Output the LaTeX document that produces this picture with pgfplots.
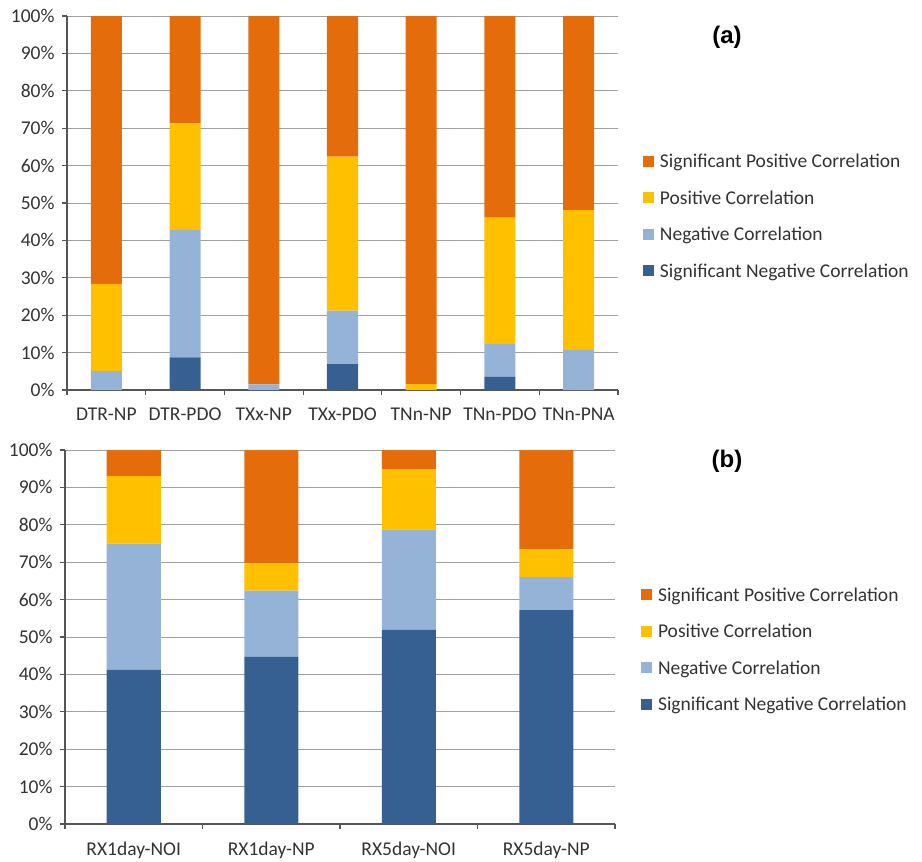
\documentclass[border=0pt]{standalone}
\usepackage{pgfplots}
\pgfplotsset{compat=1.18}
\usepackage{fontspec}
\setmainfont{Carlito}
\newfontfamily\arialfont{Liberation Sans}
\definecolor{sigpos}{RGB}{228,108,10}
\definecolor{pos}{RGB}{255,192,0}
\definecolor{neg}{RGB}{149,179,215}
\definecolor{signeg}{RGB}{55,96,146}
\definecolor{gridc}{RGB}{160,160,160}
\definecolor{axc}{RGB}{85,85,85}
\newcommand{\tf}{\fontsize{19.5}{23}\selectfont}
\pgfplotsset{
 mystyle/.style={
  scale only axis, height=374pt,
  ybar stacked, ymin=0, ymax=100,
  ytick={0,10,...,100},
  yticklabels={0\%,10\%,20\%,30\%,40\%,50\%,60\%,70\%,80\%,90\%,100\%},
  axis x line*=bottom, axis y line*=left,
  axis line style={axc, line width=1.2pt, -},
  ymajorgrids, grid style={gridc, line width=0.9pt},
  tick align=outside, major tick length=5pt,
  tick style={axc, line width=1.1pt},
  x tick label as interval,
  tick label style={font=\tf, black!80},
  yticklabel style={xshift=-4pt},
  xticklabel style={yshift=-9pt},
  reverse legend,
  legend cell align=left,
  legend image code/.code={\fill[##1] (0pt,-5pt) rectangle (11pt,6pt);},
  legend style={draw=none, fill=none, inner sep=0pt, font=\tf, text=black!80,
     row sep=17.5pt, anchor=west, nodes={inner sep=2pt},
     /tikz/every odd column/.append style={column sep=4pt}},
  every axis plot/.append style={draw=none},
 }
}
\begin{document}
\begin{tikzpicture}
\path[use as bounding box] (0,0) rectangle (922pt,-862pt);
% ---------- panel (a)
\begin{axis}[mystyle, at={(67pt,-390pt)}, anchor=south west,
  width=551pt, bar width=31pt,
  xmin=-0.5, xmax=6.5,
  xtick={-0.5,0.5,...,6.5},
  xticklabels={DTR-NP,DTR-PDO,TXx-NP,TXx-PDO,TNn-NP,TNn-PDO,TNn-PNA},
  legend style={at={(1.045,0.464)}}]
\addplot[fill=signeg] coordinates {(0,0) (1,8.7) (2,0) (3,6.9) (4,0) (5,3.5) (6,0)};
\addlegendentry{Significant Negative Correlation}
\addplot[fill=neg] coordinates {(0,5.1) (1,34.1) (2,1.5) (3,14.3) (4,0) (5,8.8) (6,10.7)};
\addlegendentry{Negative Correlation}
\addplot[fill=pos] coordinates {(0,23.3) (1,28.5) (2,0) (3,41.2) (4,1.6) (5,33.8) (6,37.4)};
\addlegendentry{Positive Correlation}
\addplot[fill=sigpos] coordinates {(0,71.6) (1,28.7) (2,98.5) (3,37.6) (4,98.4) (5,53.9) (6,51.9)};
\addlegendentry{Significant Positive Correlation}
\end{axis}
% ---------- panel (b)
\begin{axis}[mystyle, at={(65pt,-824pt)}, anchor=south west,
  width=550pt, bar width=54pt,
  xmin=-0.5, xmax=3.5,
  xtick={-0.5,0.5,...,3.5},
  xticklabels={RX1day-NOI,RX1day-NP,RX5day-NOI,RX5day-NP},
  legend style={at={(1.047,0.465)}}]
\addplot[fill=signeg] coordinates {(0,41.2) (1,44.7) (2,51.9) (3,57.2)};
\addlegendentry{Significant Negative Correlation}
\addplot[fill=neg] coordinates {(0,33.8) (1,17.7) (2,26.9) (3,8.9)};
\addlegendentry{Negative Correlation}
\addplot[fill=pos] coordinates {(0,18.0) (1,7.3) (2,16.1) (3,7.3)};
\addlegendentry{Positive Correlation}
\addplot[fill=sigpos] coordinates {(0,7.0) (1,30.3) (2,5.1) (3,26.6)};
\addlegendentry{Significant Positive Correlation}
\end{axis}
\node[font=\arialfont\bfseries\fontsize{24}{26}\selectfont, inner sep=0pt] at (727pt,-37pt) {(a)};
\node[font=\arialfont\bfseries\fontsize{24}{26}\selectfont, inner sep=0pt] at (727pt,-461pt) {(b)};
\end{tikzpicture}
\end{document}
